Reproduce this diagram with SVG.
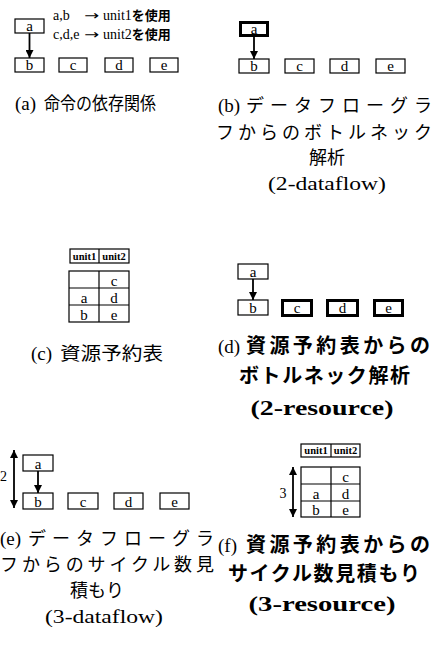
<svg xmlns="http://www.w3.org/2000/svg" width="432" height="651" viewBox="0 0 432 651">
<style>
.box{fill:#fff;stroke:#000;stroke-width:1.2}
.thick{fill:#fff;stroke:#000;stroke-width:3}
.grid{fill:none;stroke:#000;stroke-width:1.2}
.lbl{font-family:"Liberation Serif",serif;font-size:15px;text-anchor:middle;fill:#000}
.hdr{font-family:"Liberation Serif",serif;font-size:10.5px;font-weight:bold;text-anchor:middle;fill:#000}
.cap{font-family:"Noto Sans CJK JP",sans-serif;font-size:18px;fill:#000}
.capb{font-family:"Noto Sans CJK JP",sans-serif;font-size:20px;font-weight:bold;fill:#000}
.ser{font-family:"Liberation Serif",serif;font-size:19px;fill:#000}
.serb{font-family:"Liberation Serif",serif;font-weight:bold;font-size:21px;fill:#000}
.note{font-family:"Liberation Serif",serif;font-size:14px;fill:#000}
.arr{font-family:"DejaVu Sans",sans-serif;font-size:13px}
.jb{font-family:"Noto Sans CJK JP",sans-serif;font-weight:bold;font-size:13px}
.conn{stroke:#000;stroke-width:1.8;fill:none}
</style>
<defs>
<marker id="ah" viewBox="0 0 10 10" refX="10" refY="5" markerWidth="9" markerHeight="8" markerUnits="userSpaceOnUse" orient="auto-start-reverse"><path d="M0,0 L10,5 L0,10 z" fill="#000"/></marker>
</defs>

<!-- (a) -->
<g id="a-note">
<text class="note" x="53" y="20">a,b</text>
<text class="note arr" x="84" y="20" textLength="15" lengthAdjust="spacingAndGlyphs">→</text>
<text class="note" x="103" y="20">unit1<tspan class="jb">を使用</tspan></text>
<text class="note" x="53" y="39">c,d,e</text>
<text class="note arr" x="84" y="39" textLength="15" lengthAdjust="spacingAndGlyphs">→</text>
<text class="note" x="103" y="39">unit2<tspan class="jb">を使用</tspan></text>
</g>
<g id="a-node-a"><rect class="box" x="15" y="19" width="29" height="14"/><text class="lbl" x="29.5" y="31">a</text></g>
<g id="a-node-b"><rect class="box" x="15" y="58" width="29" height="14"/><text class="lbl" x="29.5" y="70">b</text></g>
<g id="a-node-c"><rect class="box" x="59" y="58" width="28" height="14"/><text class="lbl" x="73" y="70">c</text></g>
<g id="a-node-d"><rect class="box" x="105" y="58" width="28" height="14"/><text class="lbl" x="119" y="70">d</text></g>
<g id="a-node-e"><rect class="box" x="150" y="58" width="28" height="14"/><text class="lbl" x="164" y="70">e</text></g>
<g id="a-cap">
<text class="ser" x="15" y="110">(a)</text>
<text class="cap" x="44" y="110" font-size="19" textLength="112" lengthAdjust="spacingAndGlyphs">命令の依存関係</text>
</g>

<!-- (b) -->
<g id="b-node-a"><rect class="thick" x="240.5" y="22.5" width="27" height="13"/><text class="lbl" x="254" y="34">a</text></g>
<g id="b-node-b"><rect class="box" x="239" y="59" width="30" height="14"/><text class="lbl" x="254" y="71">b</text></g>
<g id="b-node-c"><rect class="box" x="285" y="59" width="29" height="14"/><text class="lbl" x="299.5" y="71">c</text></g>
<g id="b-node-d"><rect class="box" x="330" y="59" width="29" height="14"/><text class="lbl" x="344.5" y="71">d</text></g>
<g id="b-node-e"><rect class="box" x="376" y="59" width="29" height="14"/><text class="lbl" x="390.5" y="71">e</text></g>
<g id="b-cap">
<text class="ser" x="218" y="112">(b)</text>
<text class="cap" x="246" y="112" textLength="186" lengthAdjust="spacing">データフローグラ</text>
<text class="cap" x="216" y="139" textLength="216" lengthAdjust="spacing">フからのボトルネック</text>
<text class="cap" x="327" y="164" text-anchor="middle">解析</text>
<text class="ser" x="327" y="190" text-anchor="middle" textLength="118" lengthAdjust="spacingAndGlyphs">(2-dataflow)</text>
</g>

<!-- (c) -->
<g id="c-table">
<rect class="box" x="70" y="249" width="59" height="14"/>
<line class="grid" x1="99" y1="249" x2="99" y2="263"/>
<text class="hdr" x="84.5" y="260">unit1</text>
<text class="hdr" x="114" y="260">unit2</text>
<rect class="box" x="69" y="271" width="60" height="51"/>
<path class="grid" d="M69,288H129M69,305H129M99,271V322"/>
<text class="lbl" x="114" y="286">c</text>
<text class="lbl" x="84" y="303">a</text>
<text class="lbl" x="114" y="303">d</text>
<text class="lbl" x="84" y="320">b</text>
<text class="lbl" x="114" y="320">e</text>
</g>
<g id="c-cap">
<text class="ser" x="31" y="360">(c)</text>
<text class="cap" x="60" y="360" font-size="20" textLength="103" lengthAdjust="spacingAndGlyphs">資源予約表</text>
</g>

<!-- (d) -->
<g id="d-node-a"><rect class="box" x="238" y="264" width="30" height="15"/><text class="lbl" x="253" y="277">a</text></g>
<g id="d-node-b"><rect class="box" x="238" y="300" width="30" height="15"/><text class="lbl" x="253" y="313">b</text></g>
<g id="d-node-c"><rect class="thick" x="282.5" y="300.5" width="29" height="15"/><text class="lbl" x="297" y="313">c</text></g>
<g id="d-node-d"><rect class="thick" x="327.5" y="300.5" width="30" height="15"/><text class="lbl" x="342.5" y="313">d</text></g>
<g id="d-node-e"><rect class="thick" x="374.5" y="300.5" width="28" height="15"/><text class="lbl" x="388.5" y="313">e</text></g>
<g id="d-cap">
<text class="ser" x="218" y="353">(d)</text>
<text class="capb" x="246" y="353" textLength="184" lengthAdjust="spacing">資源予約表からの</text>
<text class="capb" x="239" y="383" textLength="171" lengthAdjust="spacing">ボトルネック解析</text>
<text class="serb" x="322" y="415" text-anchor="middle" textLength="143" lengthAdjust="spacingAndGlyphs">(2-resource)</text>
</g>

<!-- (e) -->
<g id="e-node-a"><rect class="box" x="23" y="455" width="30" height="16"/><text class="lbl" x="38" y="469">a</text></g>
<g id="e-node-b"><rect class="box" x="23" y="493" width="30" height="16"/><text class="lbl" x="38" y="507">b</text></g>
<g id="e-node-c"><rect class="box" x="68" y="493" width="30" height="16"/><text class="lbl" x="83" y="507">c</text></g>
<g id="e-node-d"><rect class="box" x="114" y="493" width="29" height="16"/><text class="lbl" x="128.5" y="507">d</text></g>
<g id="e-node-e"><rect class="box" x="160" y="493" width="29" height="16"/><text class="lbl" x="174.5" y="507">e</text></g>
<text id="e-num" class="note" x="0" y="481" font-size="15">2</text>
<g id="e-cap">
<text class="ser" x="0" y="545">(e)</text>
<text class="cap" x="28" y="545" textLength="186" lengthAdjust="spacing">データフローグラ</text>
<text class="cap" x="0" y="571" textLength="214" lengthAdjust="spacing">フからのサイクル数見</text>
<text class="cap" x="97" y="597" text-anchor="middle">積もり</text>
<text class="ser" x="104" y="623" text-anchor="middle" textLength="118" lengthAdjust="spacingAndGlyphs">(3-dataflow)</text>
</g>

<!-- (f) -->
<g id="f-table">
<rect class="box" x="301" y="444" width="59" height="13"/>
<line class="grid" x1="331" y1="444" x2="331" y2="457"/>
<text class="hdr" x="316" y="454">unit1</text>
<text class="hdr" x="345.5" y="454">unit2</text>
<rect class="box" x="301" y="467" width="59" height="50"/>
<path class="grid" d="M301,484H360M301,501H360M331,467V517"/>
<text class="lbl" x="345.5" y="482">c</text>
<text class="lbl" x="316" y="499">a</text>
<text class="lbl" x="345.5" y="499">d</text>
<text class="lbl" x="316" y="515">b</text>
<text class="lbl" x="345.5" y="515">e</text>
</g>
<text id="f-num" class="note" x="283" y="498" text-anchor="middle" font-size="15">3</text>
<g id="f-cap">
<text class="ser" x="218" y="552">(f)</text>
<text class="capb" x="246" y="552" textLength="184" lengthAdjust="spacing">資源予約表からの</text>
<text class="capb" x="228" y="581" textLength="192" lengthAdjust="spacing">サイクル数見積もり</text>
<text class="serb" x="322" y="611" text-anchor="middle" textLength="147" lengthAdjust="spacingAndGlyphs">(3-resource)</text>
</g>

<!-- connectors -->
<g id="connectors">
<line class="conn" x1="29.5" y1="33" x2="29.5" y2="58" marker-end="url(#ah)"/>
<line class="conn" x1="254" y1="37" x2="254" y2="59" marker-end="url(#ah)"/>
<line class="conn" x1="253" y1="279" x2="253" y2="300" marker-end="url(#ah)"/>
<line class="conn" x1="38" y1="471" x2="38" y2="493" marker-end="url(#ah)"/>
<line class="conn" x1="14" y1="450" x2="14" y2="508" marker-start="url(#ah)" marker-end="url(#ah)"/>
<line class="conn" x1="293" y1="467" x2="293" y2="517" marker-start="url(#ah)" marker-end="url(#ah)"/>
</g>
</svg>
